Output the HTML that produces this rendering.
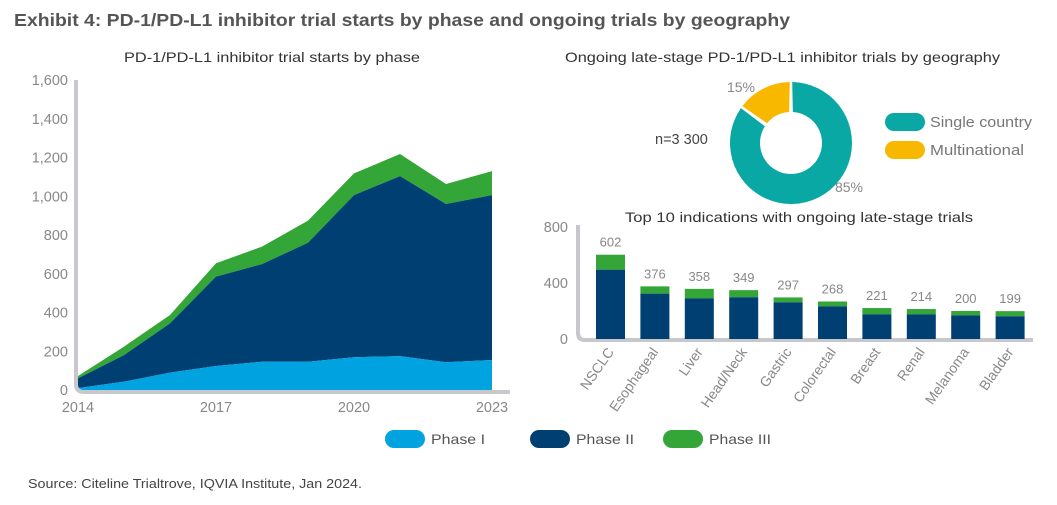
<!DOCTYPE html>
<html><head><meta charset="utf-8"><style>
body{margin:0;background:#fff;width:1057px;height:500px;overflow:hidden;font-family:"Liberation Sans",sans-serif;}
svg text{font-family:"Liberation Sans",sans-serif;}
</style></head><body>
<svg id="s" width="1057" height="500">
<text x="14" y="26" font-size="17.5" font-weight="bold" fill="#555" textLength="776" lengthAdjust="spacingAndGlyphs">Exhibit 4: PD-1/PD-L1 inhibitor trial starts by phase and ongoing trials by geography</text>
<text x="124" y="62" font-size="14" fill="#333" textLength="296" lengthAdjust="spacingAndGlyphs">PD-1/PD-L1 inhibitor trial starts by phase</text>
<text x="565" y="62" font-size="14" fill="#333" textLength="435" lengthAdjust="spacingAndGlyphs">Ongoing late-stage PD-1/PD-L1 inhibitor trials by geography</text>
<text x="625" y="222" font-size="14" fill="#333" textLength="348" lengthAdjust="spacingAndGlyphs">Top 10 indications with ongoing late-stage trials</text>
<g id="area"></g><g id="donut"></g><g id="bars"></g>
<g>
<rect x="385" y="430" width="40" height="18" rx="9" fill="#00a3e0"/>
<text x="431" y="444" font-size="14" fill="#555" textLength="54" lengthAdjust="spacingAndGlyphs">Phase I</text>
<rect x="530" y="430" width="40" height="18" rx="9" fill="#003f72"/>
<text x="576" y="444" font-size="14" fill="#555" textLength="58" lengthAdjust="spacingAndGlyphs">Phase II</text>
<rect x="663" y="430" width="40" height="18" rx="9" fill="#34a638"/>
<text x="709" y="444" font-size="14" fill="#555" textLength="62" lengthAdjust="spacingAndGlyphs">Phase III</text>
</g>
<text x="28" y="488" font-size="12.5" fill="#444" textLength="334" lengthAdjust="spacingAndGlyphs">Source: Citeline Trialtrove, IQVIA Institute, Jan 2024.</text>
</svg>
<script>
const years=[2014,2015,2016,2017,2018,2019,2020,2021,2022,2023];
const phase1=[10,43,90,124,146,146,169,175,143,155];
const phase2=[50,137,254,461,504,614,837,929,817,851];
const phase3=[12,44,43,69,90,114,112,114,103,124];
const yTicks=[0,200,400,600,800,1000,1200,1400,1600];
const xTickYears=[2014,2017,2020,2023];
const donutLabels=["Single country","Multinational"];
const donutValues=[85,15];
const cats=["NSCLC","Esophageal","Liver","Head/Neck","Gastric","Colorectal","Breast","Renal","Melanoma","Bladder"];
const barPhase2=[495,324,290,298,262,233,176,176,169,162];
const barTotals=[602,376,358,349,297,268,221,214,200,199];
const barTicks=[0,400,800];
const NS="http://www.w3.org/2000/svg";
function mk(p,t,a){const e=document.createElementNS(NS,t);for(const k in a)e.setAttribute(k,a[k]);p.appendChild(e);return e;}
const A=document.getElementById('area');
const ax=y=>78+(y-2014)*(492-78)/9, ay=v=>390-v*(310/1600);
function band(lo,hi,col,name){let d='';years.forEach((y,i)=>d+=(i?'L':'M')+ax(y)+' '+ay(hi[i]));for(let i=years.length-1;i>=0;i--)d+='L'+ax(years[i])+' '+ay(lo[i]);
const p=mk(A,'path',{d:d+'Z',fill:col});

}
const z=years.map(()=>0),c1=phase1.slice(),c2=phase1.map((v,i)=>v+phase2[i]),c3=c2.map((v,i)=>v+phase3[i]);
band(c2,c3,'#34a638','area-phase3');band(c1,c2,'#003f72','area-phase2');band(z,c1,'#00a3e0','area-phase1');
const axp=mk(A,'path',{d:'M76 80 V384 Q76 392 84 392 H510',fill:'none',stroke:'#c8c8cc','stroke-width':4});


yTicks.forEach(v=>{const t=mk(A,'text',{x:68,y:ay(v)+5,'font-size':14.5,fill:'#888','text-anchor':'end'});t.textContent=v.toLocaleString('en-US');

});
xTickYears.forEach(y=>{const t=mk(A,'text',{x:ax(y),y:412,'font-size':14.5,fill:'#888','text-anchor':'middle'});t.textContent=y;

});
const D=document.getElementById('donut');
const cx=791,cy=143,R=61,r=31,cols=['#0aa8a5','#f9b800'];
let ang=0;const tot=donutValues.reduce((a,b)=>a+b,0);
donutValues.forEach((v,i)=>{const a0=ang,a1=ang+v/tot*2*Math.PI;ang=a1;
const g=0.03;const p=(rr,a)=>[cx+rr*Math.sin(a),cy-rr*Math.cos(a)];
const [x0,y0]=p(R,a0+g/1.5),[x1,y1]=p(R,a1-g/1.5),[x2,y2]=p(r,a1-g*2),[x3,y3]=p(r,a0+g*2);const lg=(a1-a0)>Math.PI?1:0;
const s=mk(D,'path',{d:`M${x0} ${y0}A${R} ${R} 0 ${lg} 1 ${x1} ${y1}L${x2} ${y2}A${r} ${r} 0 ${lg} 0 ${x3} ${y3}Z`,fill:cols[i]});

});
[[donutValues[1]+'%',741,92],[donutValues[0]+'%',849,192]].forEach(([t,x,y])=>{const e=mk(D,'text',{x,y,'font-size':14,fill:'#888','text-anchor':'middle'});e.textContent=t;

});
const n=mk(D,'text',{x:655,y:144,'font-size':14.5,fill:'#444'});n.textContent='n=3 300';


donutLabels.forEach((l,i)=>{const rr=mk(D,'rect',{x:885,y:113+i*28,width:40,height:18,rx:9,fill:cols[i]});


const t=mk(D,'text',{x:930,y:127+i*28,'font-size':14.5,fill:'#777',textLength:i?94:102,lengthAdjust:'spacingAndGlyphs'});t.textContent=l;

});
const B=document.getElementById('bars');
const bx=i=>596+i*44.4, by=v=>339-v*(112/800), bw=29;
const bax=mk(B,'path',{d:'M578 225 V333 Q578 340 585 340 H1033',fill:'none',stroke:'#c8c8cc','stroke-width':4});


barTicks.forEach(v=>{const t=mk(B,'text',{x:568,y:by(v)+5,'font-size':14.5,fill:'#888','text-anchor':'end'});t.textContent=v;

});
cats.forEach((c,i)=>{const x=bx(i);
const g=mk(B,'rect',{x,y:by(barTotals[i]),width:bw,height:by(barPhase2[i])-by(barTotals[i]),fill:'#34a638'});


const d=mk(B,'rect',{x,y:by(barPhase2[i]),width:bw,height:339-by(barPhase2[i]),fill:'#003f72'});


const v=mk(B,'text',{x:x+bw/2,y:by(barTotals[i])-8,'font-size':13,fill:'#888','text-anchor':'middle'});v.textContent=barTotals[i];


const t=mk(B,'text',{x:x+bw/2+4,y:352,'font-size':14,fill:'#888','text-anchor':'end',transform:`rotate(-55 ${x+bw/2+4} 352)`});t.textContent=c;

});
</script>
</body></html>
